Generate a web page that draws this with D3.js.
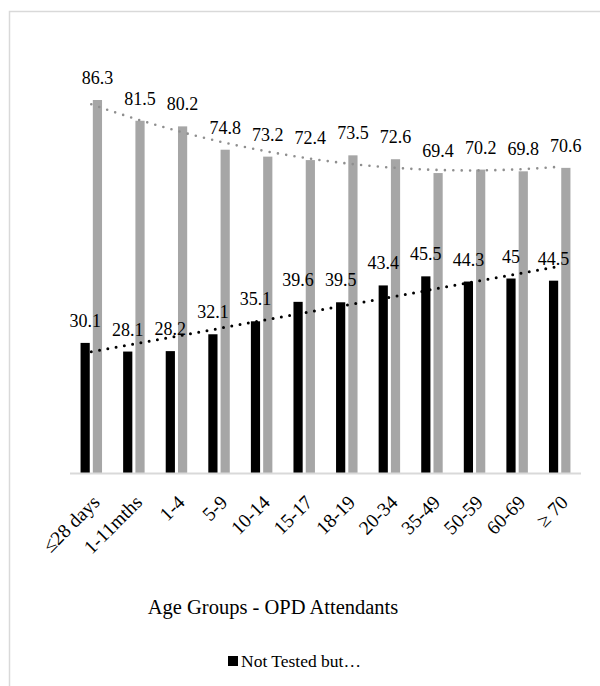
<!DOCTYPE html>
<html>
<head>
<meta charset="utf-8">
<script src="https://cdn.jsdelivr.net/npm/d3@7/dist/d3.min.js"></script>
<style>
  html, body { margin: 0; padding: 0; background: #fff; }
</style>
</head>
<body>
<svg id="chart" width="600" height="686"></svg>
<script>
// Age groups of OPD attendants
const categories = ["≤28 days", "1-11mths", "1-4", "5-9", "10-14", "15-17", "18-19", "20-34", "35-49", "50-59", "60-69", "≥ 70"];
// "Not Tested but…" series (black columns)
const notTested = [30.1, 28.1, 28.2, 32.1, 35.1, 39.6, 39.5, 43.4, 45.5, 44.3, 45, 44.5];
// second series (grey columns)
const tested = [86.3, 81.5, 80.2, 74.8, 73.2, 72.4, 73.5, 72.6, 69.4, 70.2, 69.8, 70.6];
const seriesNames = ["Not Tested but…", "Tested"];
const yDomain = [0, 100];

const FONT = "'Liberation Serif', 'Times New Roman', Times, 'DejaVu Serif', serif";

const svg = d3.select("#chart").attr("font-family", FONT);
const plot = { left: 70, right: 581, top: 40.8, bottom: 473 };

// outer chart frame
svg.append("rect")
  .attr("x", 9.5).attr("y", 11.5)
  .attr("width", 700).attr("height", 700)
  .attr("fill", "none").attr("stroke", "#d9d9d9").attr("stroke-width", 1.5);

const x0 = d3.scaleBand().domain(categories).range([plot.left, plot.right]);
const x1 = d3.scaleBand().domain([0, 1]).range([0, x0.bandwidth()]).paddingInner(0.25).paddingOuter(0.86);
const y = d3.scaleLinear().domain(yDomain).range([plot.bottom, plot.top]);

const series = [
  { values: notTested, color: "#000000", trend: "linear", trendColor: "#000000", dot: 3 },
  { values: tested, color: "#a6a6a6", trend: "poly2", trendColor: "#8f8f8f", dot: 2.6 }
];

// columns
series.forEach((s, si) => {
  svg.append("g").selectAll("rect")
    .data(s.values)
    .join("rect")
    .attr("x", (d, i) => x0(categories[i]) + x1(si))
    .attr("y", d => y(d))
    .attr("width", x1.bandwidth())
    .attr("height", d => y(0) - y(d))
    .attr("fill", s.color);
});

// category axis line
svg.append("line")
  .attr("x1", plot.left).attr("x2", plot.right)
  .attr("y1", plot.bottom + 0.5).attr("y2", plot.bottom + 0.5)
  .attr("stroke", "#d9d9d9").attr("stroke-width", 2);

// least-squares trend lines over category index 1..n
function fitLinear(vals) {
  const xs = vals.map((_, i) => i + 1);
  const mx = d3.mean(xs), my = d3.mean(vals);
  const b = d3.sum(xs, (xv, i) => (xv - mx) * (vals[i] - my)) / d3.sum(xs, xv => (xv - mx) ** 2);
  return t => my + b * (t - mx);
}
function fitPoly2(vals) {
  const xs = vals.map((_, i) => i + 1);
  const mx = d3.mean(xs), my = d3.mean(vals);
  const ts = xs.map(v => v - mx);
  const mt2 = d3.mean(ts, t => t * t);
  const us = ts.map(t => t * t - mt2);
  const b = d3.sum(ts, (t, i) => t * (vals[i] - my)) / d3.sum(ts, t => t * t);
  const c = d3.sum(us, (u, i) => u * (vals[i] - my)) / d3.sum(us, u => u * u);
  return xv => { const t = xv - mx; return my + b * t + c * (t * t - mt2); };
}
const centerX = t => x0(categories[0]) + x0.bandwidth() / 2 + (t - 1) * x0.step();

series.forEach(s => {
  const f = s.trend === "linear" ? fitLinear(s.values) : fitPoly2(s.values);
  const n = s.values.length;
  const pts = d3.range(1, n + 0.0001, 0.05).map(t => [centerX(t), y(f(t))]);
  svg.append("path")
    .attr("d", d3.line()(pts))
    .attr("fill", "none")
    .attr("stroke", s.trendColor)
    .attr("stroke-width", s.dot)
    .attr("stroke-linecap", "round")
    .attr("stroke-dasharray", "0 8.4");
});

// data labels
series.forEach((s, si) => {
  svg.append("g").selectAll("text")
    .data(s.values)
    .join("text")
    .attr("x", (d, i) => x0(categories[i]) + x1(si) + x1.bandwidth() / 2)
    .attr("y", d => y(d) - 16)
    .attr("text-anchor", "middle")
    .attr("font-size", "18px")
    .text(d => String(d));
});

// rotated category labels
svg.append("g").selectAll("text")
  .data(categories)
  .join("text")
  .attr("transform", d => `translate(${x0(d) + x0.bandwidth() / 2 + 9.5},${503.5}) rotate(-45)`)
  .attr("text-anchor", "end")
  .attr("font-size", "19.5px")
  .text(d => d);

// axis title
svg.append("text")
  .attr("x", 273).attr("y", 614)
  .attr("text-anchor", "middle")
  .attr("font-size", "20.5px")
  .text("Age Groups - OPD Attendants");

// legend (only the first entry fits)
const lg = svg.append("g");
lg.append("rect").attr("x", 228).attr("y", 656).attr("width", 10).attr("height", 10).attr("fill", series[0].color);
lg.append("text").attr("x", 241).attr("y", 667).attr("font-size", "17.5px").text(seriesNames[0]);
</script>
</body>
</html>
